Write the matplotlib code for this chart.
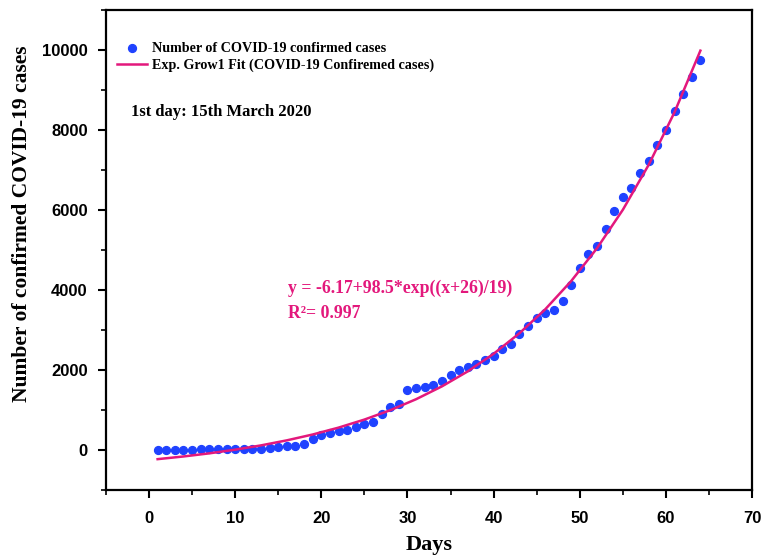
import matplotlib
matplotlib.use("Agg")
import matplotlib.pyplot as plt

# dados (dia, casos confirmados)
days = list(range(1, 65))
cases = [5, 8, 10, 12, 15, 18, 20, 22, 25, 25,
         28, 30, 33, 45, 80, 95, 115, 150, 288, 375,
         425, 485, 512, 575, 658, 700, 900, 1067, 1150, 1510,
         1560, 1570, 1640, 1720, 1883, 2000, 2075, 2158, 2242, 2358,
         2517, 2642, 2908, 3105, 3312, 3430, 3510, 3730, 4125, 4550,
         4908, 5100, 5533, 5975, 6325, 6550, 6917, 7233, 7633, 8000,
         8475, 8892, 9333, 9750]

# curva de ajuste
fit_days = [1, 4, 7, 10, 13, 16, 19, 22, 25, 28, 31, 34, 37, 40, 43,
            46, 49, 52, 55, 58, 61, 64]
fit_cases = [-225, -158, -80, 12, 119, 245, 391, 563, 764, 998, 1273,
             1594, 1969, 2408, 2922, 3522, 4225, 5047, 6008, 7132, 8447, 9985]

x_ticks = [0, 10, 20, 30, 40, 50, 60, 70]
y_ticks = [0, 2000, 4000, 6000, 8000, 10000]

serif = ['Liberation Serif', 'DejaVu Serif']
sans = ['Liberation Sans', 'DejaVu Sans']
pink = '#e3187c'
blue = '#1f42ff'

fig = plt.figure(figsize=(7.62, 5.57), dpi=100)
ax = fig.add_axes([0.139, 0.12, 0.848, 0.862])

ax.scatter(days, cases, s=32, color=blue, zorder=3,
           label='Number of COVID-19 confirmed cases')
ax.plot(fit_days, fit_cases, color=pink, lw=1.8, zorder=4,
        label='Exp. Grow1 Fit (COVID-19 Confiremed cases)')

ax.set_xlim(-5, 70)
ax.set_ylim(-1000, 11000)
ax.set_xticks(x_ticks)
ax.set_yticks(y_ticks)
ax.set_xticks(range(-5, 71, 5), minor=True)
ax.set_yticks(range(-1000, 11001, 1000), minor=True)

ax.tick_params(which='major', direction='out', length=6, width=1.5)
ax.tick_params(axis='y', which='major', pad=7)
ax.tick_params(axis='x', which='major', pad=9)
ax.tick_params(which='minor', direction='out', length=3.5, width=1.2)
for lab in ax.get_yticklabels() + ax.get_xticklabels():
    lab.set_fontfamily(sans)
    lab.set_fontweight('bold')
    lab.set_fontsize(12)
for sp in ax.spines.values():
    sp.set_linewidth(1.6)

ax.set_xlabel('Days', family=serif, fontweight='bold', fontsize=16)
ax.xaxis.set_label_coords(0.5, -0.094)
ax.set_ylabel('Number of confirmed COVID-19 cases', family=serif,
              fontweight='bold', fontsize=15.5)
ax.yaxis.set_label_coords(-0.115, 0.555)

leg = ax.legend(loc='upper left', bbox_to_anchor=(0.017, 0.933),
                frameon=False, borderpad=0, borderaxespad=0,
                handlelength=2.1, handletextpad=0.35, labelspacing=0.25,
                prop={'family': serif, 'weight': 'bold', 'size': 10.2})

ax.text(0.039, 0.788, '1st day: 15th March 2020', transform=ax.transAxes,
        family=serif, fontweight='bold', fontsize=12, va='center')
ax.text(16.1, 4050, 'y = -6.17+98.5*exp((x+26)/19)', color=pink,
        family=serif, fontweight='bold', fontsize=12.8, va='center')
ax.text(16.1, 3420, 'R\u00b2= 0.997', color=pink,
        family=serif, fontweight='bold', fontsize=12.8, va='center')

fig.savefig('out.png', dpi=100)
